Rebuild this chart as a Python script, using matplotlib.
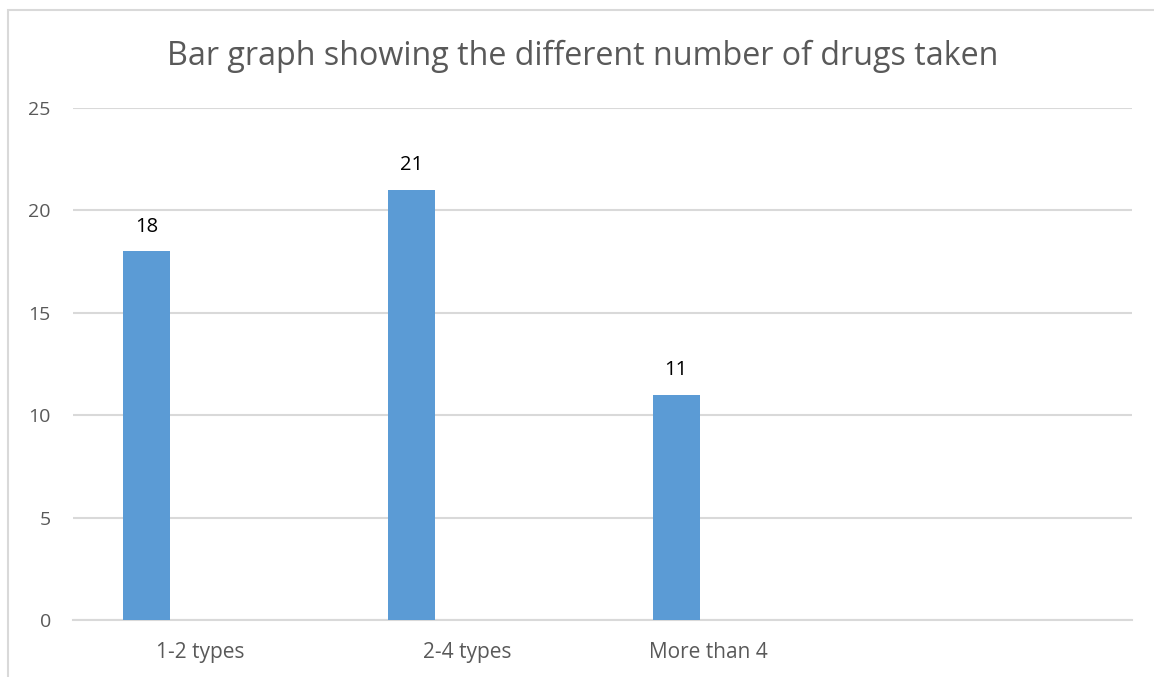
import matplotlib.pyplot as plt
from matplotlib.patches import Rectangle

# number of drug types taken
categories = ["1-2 types", "2-4 types", "More than 4", ""]
counts = [18, 21, 11, None]
label_pos = [-0.02, 0.99, 1.90, 3.0]

plt.rcParams["font.family"] = ["Open Sans", "DejaVu Sans"]

W, H = 1154, 677
fig = plt.figure(figsize=(W / 100, H / 100), dpi=100)
ax = fig.add_axes([73 / W, 1 - 620 / H, (1132 - 73) / W, (620 - 108) / H])

bar_color = "#5b9bd5"
grid_color = "#d9d9d9"
text_color = "#595959"

xs = [i - 0.222 for i in range(len(categories))]
for x, v in zip(xs, counts):
    if v is None:
        continue
    ax.bar(x, v, width=0.178, color=bar_color, zorder=3)
    ax.text(x, v + 1.2, str(v), ha="center", va="center", fontsize=14.5, color="black")

ax.set_xlim(-0.5, len(categories) - 0.5)
ax.set_ylim(0, 25)
ax.set_yticks(range(0, 26, 5))
ax.yaxis.grid(True, color=grid_color, linewidth=1.5)
ax.set_axisbelow(True)

ax.set_xticks(label_pos)
ax.set_xticklabels(categories)
ax.tick_params(axis="x", length=0, pad=16, labelsize=15, labelcolor=text_color)
ax.tick_params(axis="y", length=0, pad=16, labelsize=14, labelcolor=text_color)

for s in ["top", "right", "left"]:
    ax.spines[s].set_visible(False)
ax.spines["bottom"].set_color(grid_color)
ax.spines["bottom"].set_linewidth(1.5)

fig.text(583 / W, 1 - 56 / H, "Bar graph showing the different number of drugs taken",
         ha="center", va="center", fontsize=23.2, color=text_color)

# chart area border
fig.patches.append(Rectangle((8 / W, -0.05), 1.1, 1 - 10 / H + 0.05, transform=fig.transFigure,
                             fill=False, edgecolor="#d9d9d9", linewidth=1.5))

plt.savefig("out.png", dpi=100)
